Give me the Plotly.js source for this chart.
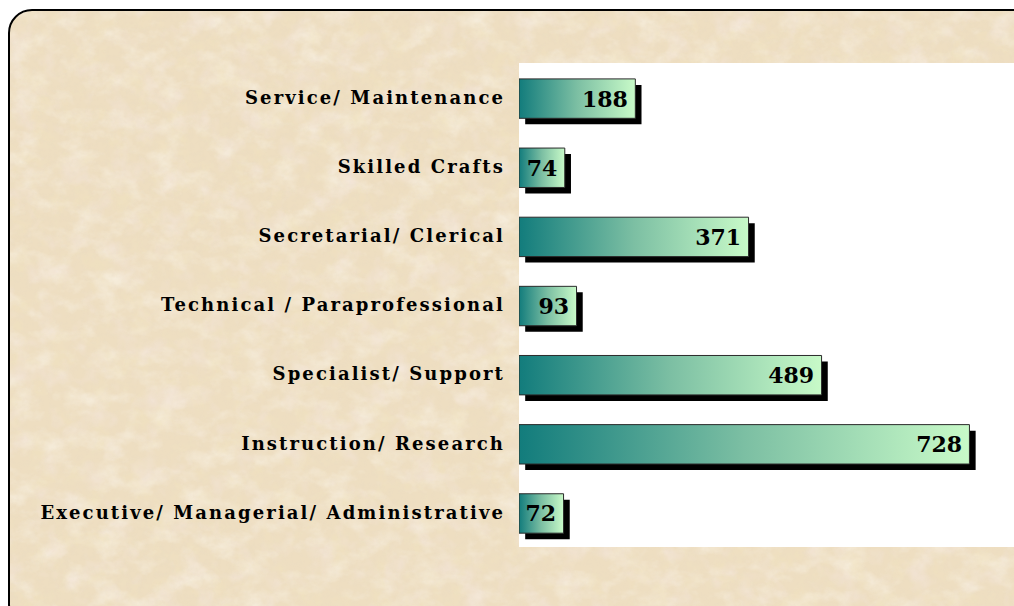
<!DOCTYPE html>
<html>
<head>
<meta charset="utf-8">
<script src="https://cdn.plot.ly/plotly-3.0.1.min.js"></script>
<style>
  html, body { margin: 0; padding: 0; background: #ffffff; overflow: hidden; }
  #frame {
    position: absolute; left: 8px; top: 9px; width: 1040px; height: 620px;
    border: 2px solid #000; border-radius: 24px; box-sizing: border-box;
    background-color: #eedec1;
    background-image: url("data:image/svg+xml;utf8,<svg xmlns='http://www.w3.org/2000/svg' width='1040' height='620'><filter id='a'><feTurbulence type='fractalNoise' baseFrequency='0.035 0.05' numOctaves='4' seed='7'/><feColorMatrix type='matrix' values='0 0 0 0 0.97 0 0 0 0 0.93 0 0 0 0 0.85 1.3 0 0 0 -0.6'/></filter><filter id='b'><feTurbulence type='fractalNoise' baseFrequency='0.05' numOctaves='4' seed='11'/><feColorMatrix type='matrix' values='0 0 0 0 0.88 0 0 0 0 0.77 0 0 0 0 0.52 0 1.3 0 0 -0.64'/></filter><filter id='c'><feTurbulence type='fractalNoise' baseFrequency='0.04' numOctaves='3' seed='23'/><feColorMatrix type='matrix' values='0 0 0 0 0.91 0 0 0 0 0.80 0 0 0 0 0.76 0 0 1.3 0 -0.66'/></filter><filter id='d'><feTurbulence type='fractalNoise' baseFrequency='0.18' numOctaves='2' seed='5'/><feColorMatrix type='matrix' values='0 0 0 0 0.80 0 0 0 0 0.70 0 0 0 0 0.55 1 0 0 0 -0.45'/></filter><rect width='100%' height='100%' filter='url(%23a)'/><rect width='100%' height='100%' filter='url(%23b)'/><rect width='100%' height='100%' filter='url(%23c)'/><rect width='100%' height='100%' filter='url(%23d)' opacity='0.5'/></svg>");
  }
  #chart { position: absolute; left: 0; top: 0; width: 1014px; height: 606px; }
  #chart .ytick text { letter-spacing: 2.1px; }
</style>
</head>
<body>
<div id="frame"></div>
<div id="chart"></div>
<script>
const categories = [
  "Service/ Maintenance",
  "Skilled Crafts",
  "Secretarial/ Clerical",
  "Technical / Paraprofessional",
  "Specialist/ Support",
  "Instruction/ Research",
  "Executive/ Managerial/ Administrative"
];
const employees = [188, 74, 371, 93, 489, 728, 72];
const valueLabels = employees.map(v => String(v));

const serif = "DejaVu Serif, Liberation Serif, serif";

const shadow = {
  type: "bar", orientation: "h",
  x: employees, y: categories, base: 10,
  width: 0.57, offset: -0.183,
  marker: { color: "#000000", line: { width: 0 } },
  hoverinfo: "skip", showlegend: false
};

const bars = {
  type: "bar", orientation: "h",
  x: employees, y: categories,
  width: 0.57, offset: -0.27,
  marker: { color: "#5fae9c", line: { width: 1, color: "#2b2b2b" } },
  text: valueLabels.map(t => t + "\u2009"),
  textposition: "inside",
  insidetextanchor: "end",
  constraintext: "none",
  textfont: { family: serif, size: 22, weight: "bold", color: "#000000" },
  showlegend: false
};

const layout = {
  width: 1014, height: 606,
  margin: { l: 519, r: 0, t: 63, b: 59 },
  paper_bgcolor: "rgba(0,0,0,0)",
  plot_bgcolor: "#ffffff",
  barmode: "overlay",
  xaxis: { range: [0, 800], visible: false, fixedrange: true },
  yaxis: {
    type: "category", autorange: "reversed",
    showgrid: false, zeroline: false, showline: false, ticks: "",
    ticklabelstandoff: 13,
    tickfont: { family: serif, size: 18, weight: "bold", color: "#000000" },
    fixedrange: true
  },
  font: { family: serif }
};

Plotly.newPlot("chart", [shadow, bars], layout, { staticPlot: true, displayModeBar: false }).then(gd => {
  const svg = gd.querySelector("svg.main-svg");
  const ns = "http://www.w3.org/2000/svg";
  let defs = svg.querySelector("defs");
  if (!defs) { defs = document.createElementNS(ns, "defs"); svg.insertBefore(defs, svg.firstChild); }
  const grad = document.createElementNS(ns, "linearGradient");
  grad.setAttribute("id", "barGrad");
  grad.setAttribute("x1", "0"); grad.setAttribute("y1", "0");
  grad.setAttribute("x2", "1"); grad.setAttribute("y2", "0");
  [["0", "#127c7c"], ["0.5", "#7cbfa3"], ["1", "#c8fac8"]].forEach(([o, c]) => {
    const s = document.createElementNS(ns, "stop");
    s.setAttribute("offset", o); s.setAttribute("stop-color", c);
    grad.appendChild(s);
  });
  defs.appendChild(grad);
  const traces = gd.querySelectorAll(".barlayer .trace");
  if (traces.length > 1) {
    traces[1].querySelectorAll(".point path").forEach(p => { p.style.fill = "url(#barGrad)"; });
  }
});
</script>
</body>
</html>
